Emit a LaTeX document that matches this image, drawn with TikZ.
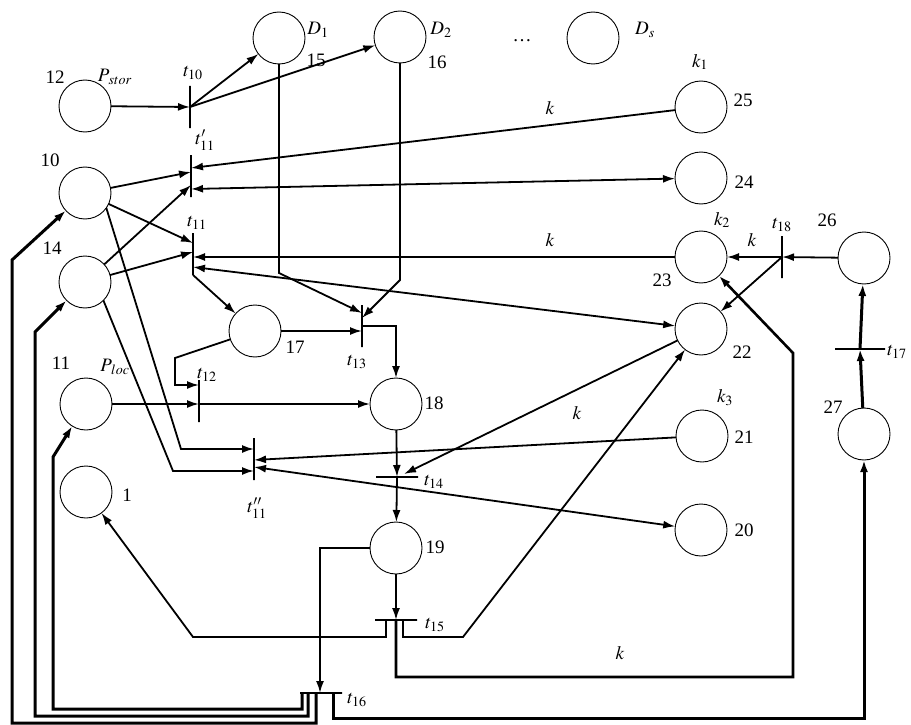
\documentclass[tikz,border=0pt]{standalone}
\usepackage{mathptmx}
\usepackage{fontspec}
\setmainfont{Liberation Serif}
\usepackage{tkz-graph}
\usetikzlibrary{arrows.meta}

\begin{document}
\begin{tikzpicture}[x=1pt,y=-1pt,font=\fontsize{19}{22}\selectfont,inner sep=1pt,
arc/.style={-{Latex[length=12pt,width=8pt]},line width=1.8pt},
biarc/.style={{Latex[length=12pt,width=8pt]}-{Latex[length=12pt,width=8pt]},line width=1.8pt},
heavy/.style={arc,line width=3pt},
vbar/.style={draw,line width=2pt,minimum height=42pt,minimum width=0pt,inner sep=0pt,outer sep=0pt},
hbar/.style={draw,line width=2pt,minimum width=42pt,minimum height=0pt,inner sep=0pt,outer sep=0pt}]
\useasboundingbox (0,0) rectangle (911,725);
\tikzset{VertexStyle/.style={draw,circle,line width=0.9pt,minimum size=52pt,inner sep=0pt}}
\Vertex[x=85 ,y=106,NoLabel]{p12}
\Vertex[x=85 ,y=193,NoLabel]{p10}
\Vertex[x=85 ,y=282,NoLabel]{p14}
\Vertex[x=86 ,y=404,NoLabel]{p11}
\Vertex[x=86 ,y=492,NoLabel]{p1}
\Vertex[x=279 ,y=38,NoLabel]{p15}
\Vertex[x=400 ,y=37,NoLabel]{p16}
\Vertex[x=593 ,y=38,NoLabel]{pDs}
\Vertex[x=255 ,y=331,NoLabel]{p17}
\Vertex[x=396 ,y=404,NoLabel]{p18}
\Vertex[x=396 ,y=548,NoLabel]{p19}
\Vertex[x=701 ,y=107,NoLabel]{p25}
\Vertex[x=701 ,y=178,NoLabel]{p24}
\Vertex[x=701 ,y=257,NoLabel]{p23}
\Vertex[x=701 ,y=329,NoLabel]{p22}
\Vertex[x=702 ,y=436,NoLabel]{p21}
\Vertex[x=701 ,y=530,NoLabel]{p20}
\Vertex[x=864 ,y=258,NoLabel]{p26}
\Vertex[x=864 ,y=434,NoLabel]{p27}
\node[vbar] (t10) at (190,107) {};
\node[vbar] (t11p) at (191,176) {};
\node[vbar] (t11) at (193,254) {};
\node[vbar] (t12) at (199,401) {};
\node[vbar] (t13) at (362,326) {};
\node[vbar] (t11pp) at (254,459) {};
\node[vbar] (t18) at (782,257) {};
\node[hbar] (t14) at (397,477) {};
\node[hbar] (t15) at (396,620) {};
\node[hbar] (t16) at (321,693) {};
\node[hbar,minimum width=50pt] (t17) at (860,349) {};
\coordinate (b15) at (279,273);
\coordinate (b16) at (400,280);
\coordinate (b17a) at (175,358);
\coordinate (b17b) at (175,385);
\coordinate (b10) at (181,449);
\coordinate (b14) at (173,471);
\coordinate (b1) at (193,637);
\coordinate (b22) at (463,637);
\coordinate (b23a) at (793,677);
\coordinate (b23b) at (793,353);
\coordinate (b19) at (320,548);
\coordinate (d11a) at (53,709);
\coordinate (d11b) at (53,457);
\coordinate (d14a) at (35,716);
\coordinate (d14b) at (35,332);
\coordinate (d10a) at (12,723);
\coordinate (d10b) at (12,260);
\coordinate (d27) at (864,718);
\draw[arc] (p12) -- (t10);
\draw[arc] (t10.center) -- (p15);
\draw[arc] (t10.center) -- (p16);
\draw[arc] (p25) -- ([yshift=8pt]t11p.center);
\draw[biarc] (p24) -- ([yshift=-13pt]t11p.center);
\draw[arc] (p10) -- ([yshift=4pt]t11p.center);
\draw[arc] (p14) -- ([yshift=-9pt]t11p.center);
\draw[arc] (p10) -- ([yshift=11pt]t11.center);
\draw[arc] (p14) -- ([yshift=2pt]t11.center);
\draw[arc] (p23) -- (t11.center |- p23);
\draw[biarc] (p22) -- ([yshift=-13pt]t11.center);
\draw[arc] (t11.south) -- (p17);
\draw[arc] (p15) -- (b15) -- ([yshift=13pt]t13.center);
\draw[arc] (p16) -- (b16) -- ([yshift=8pt]t13.center);
\draw[arc] (p17) -- (t13.center |- p17);
\draw[arc] (t13.center) -| (p18.north);
\draw[arc] (p17) -- (b17a) -- (b17b) -- (t12.center |- b17b);
\draw[arc] (p11) -- (t12.center |- p11);
\draw[arc] (t12.center |- p18) -- (p18);
\draw[arc] (p10.-35) -- (b10) -- (t11pp.center |- b10);
\draw[arc] (p14.-45) -- (b14) -- (t11pp.center |- b14);
\draw[arc] (p21) -- ([yshift=-1pt]t11pp.center);
\draw[biarc] (p20) -- ([yshift=-8pt]t11pp.center);
\draw[arc] (p18) -- (t14);
\draw[arc] (p22) -- ([xshift=7pt,yshift=3pt]t14.center);
\draw[arc] (t14) -- (p19);
\draw[arc] (p19) -- (t15);
\draw[arc] ([xshift=-10pt]t15.center) |- (b1) -- (p1);
\draw[arc] ([xshift=7pt]t15.center) |- (b22) -- (p22);
\draw[arc,line width=2.6pt] (t15.center) |- (b23a) -- (b23b) -- (p23);
\draw[arc] (p19) -- (b19) -- (b19 |- t16);
\draw[heavy] ([xshift=-19pt]t16.center) |- (d11a) -- (d11b) -- (p11);
\draw[heavy] ([xshift=-13pt]t16.center) |- (d14a) -- (d14b) -- (p14);
\draw[heavy] ([xshift=-5pt]t16.center) |- (d10a) -- (d10b) -- (p10);
\draw[heavy] ([xshift=12pt]t16.center) |- (d27) -- (p27);
\draw[heavy] (p27) -- (t17);
\draw[heavy] (t17) -- (p26);
\draw[arc] (p26) -- (t18);
\draw[arc] (t18) -- (p23);
\draw[arc] (t18.center) -- (p22);
\node (n12) at (55,77) {12};
\node (nPstor) at (115,77) {$P_{\mkern2mu stor}$};
\node (nt10) at (193,73) {$t_{10}$};
\node (nD1) at (318,30) {$D_1$};
\node (n15) at (316,60) {15};
\node (nD2) at (441,30) {$D_2$};
\node (n16) at (437,62) {16};
\node (ndots) at (522,41) {\dots};
\node (nDs) at (645,30) {$D_s$};
\node (nk1) at (700,62) {$k_1$};
\node (n25) at (743,100) {25};
\node (nka) at (550,108) {$k$};
\node (nt11p) at (205,140) {$t'_{11}$};
\node (n10) at (50,160) {10};
\node (n24) at (744,182) {24};
\node (nt11) at (197,223) {$t_{11}$};
\node (n14) at (52,248) {14};
\node (nkb) at (550,240) {$k$};
\node (nk2) at (722,220) {$k_2$};
\node (nkc) at (752,240) {$k$};
\node (nt18) at (782,225) {$t_{18}$};
\node (n26) at (827,220) {26};
\node (n23) at (662,280) {23};
\node (n17) at (295,347) {17};
\node (nt13) at (357,362) {$t_{13}$};
\node (n22) at (742,352) {22};
\node (nt17) at (897,352) {$t_{17}$};
\node (n11) at (61,363) {11};
\node (nPloc) at (115,367) {$P_{\mkern2mu loc}$};
\node (nt12) at (207,375) {$t_{12}$};
\node (n18) at (434,403) {18};
\node (nk3) at (725,398) {$k_3$};
\node (n21) at (744,437) {21};
\node (n27) at (833,407) {27};
\node (nkd) at (577,413) {$k$};
\node (nt14) at (434,482) {$t_{14}$};
\node (n1) at (127,495) {1};
\node (nt11pp) at (257,508) {$t''_{11}$};
\node (n19) at (435,547) {19};
\node (n20) at (744,530) {20};
\node (nt15) at (435,625) {$t_{15}$};
\node (nke) at (620,653) {$k$};
\node (nt16) at (357,700) {$t_{16}$};
\end{tikzpicture}
\end{document}
